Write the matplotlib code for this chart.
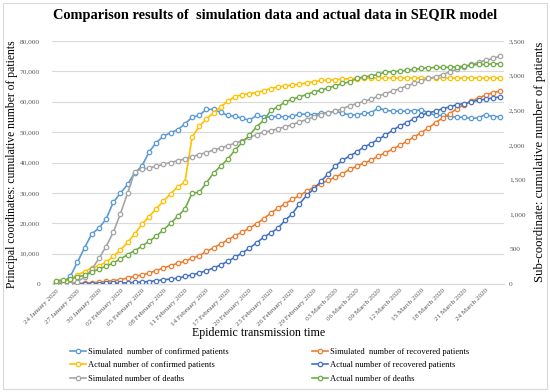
import numpy as np
import pandas as pd
import matplotlib
matplotlib.use("Agg")
import matplotlib.pyplot as plt
from matplotlib.patches import Rectangle
from matplotlib.ticker import FuncFormatter, MultipleLocator

plt.rcParams['font.family'] = ['Liberation Serif', 'DejaVu Serif']

# categories: one point per day, 24 Jan 2020 .. 26 Mar 2020
dates = pd.date_range('2020-01-24', periods=63)
date_labels = [d.strftime('%d %B %Y') for d in dates]

# primary axis (cumulative number of patients)
sim_confirmed = [200, 400, 2500, 7200, 12000, 16500, 18400, 21400, 26900, 29900,
                 32800, 36600, 38800, 43500, 46500, 48700, 49800, 50800, 52700, 54900,
                 55500, 57500, 57500, 56500, 55500, 55200, 54600, 53900, 55500, 55000,
                 55000, 55200, 55000, 55200, 55900, 55900, 55700, 56200, 56400, 56900,
                 56200, 55700, 55700, 56200, 56400, 57900, 57200, 56900, 56900, 56900,
                 57100, 57300, 56400, 55500, 55500, 55100, 54900, 54900, 54500, 54700,
                 55800, 55100, 55100]
act_confirmed = [700, 1050, 1450, 3000, 4100, 5300, 6000, 7150, 9100, 11200,
                 13700, 16500, 19600, 22200, 24800, 27200, 29700, 32000, 33500, 48300,
                 51900, 54400, 56300, 58300, 60200, 61700, 62300, 62700, 63000, 63700,
                 64300, 64900, 65200, 65500, 65800, 66200, 66550, 67000, 67100, 67300,
                 67400, 67650, 67650, 67750, 67800, 67800, 67800, 67800, 67800, 67800,
                 67800, 67800, 67800, 67800, 67800, 67800, 67800, 67800, 67800, 67800,
                 67800, 67800, 67800]
sim_recovered = [0, 50, 100, 200, 300, 400, 550, 880, 1100, 1430,
                 1980, 2530, 2970, 3630, 4400, 5280, 6050, 6820, 7480, 8470,
                 9350, 10700, 11900, 13200, 14500, 15950, 17050, 18370, 19800, 21450,
                 23400, 24970, 26400, 27830, 29150, 30470, 31900, 33000, 34100, 35200,
                 36300, 37730, 38720, 39820, 40700, 42130, 43230, 44330, 45650, 46970,
                 48400, 49830, 51370, 53130, 54670, 56100, 57750, 59070, 60170, 61270,
                 62150, 63030, 63470]
act_recovered = [30, 40, 45, 50, 80, 90, 120, 170, 220, 300,
                 400, 520, 630, 820, 1100, 1400, 1650, 1900, 2500, 2970,
                 3630, 4400, 5280, 6270, 7480, 8800, 10230, 11770, 13530, 15400,
                 16830, 18370, 21000, 23100, 26400, 29150, 31350, 33770, 36300, 38830,
                 40700, 42130, 43450, 45100, 46200, 47630, 49000, 50600, 52030, 53130,
                 54450, 55550, 56430, 56870, 57750, 58300, 59070, 59400, 59950, 60500,
                 60830, 61270, 61600]

# secondary axis (deaths)
sim_deaths = [0, 0, 0, 35, 100, 210, 370, 540, 746, 1011,
              1310, 1620, 1655, 1670, 1694, 1725, 1750, 1775, 1803, 1832,
              1865, 1893, 1930, 1960, 1993, 2030, 2062, 2113, 2151, 2190,
              2205, 2238, 2262, 2296, 2334, 2368, 2406, 2440, 2469, 2488,
              2527, 2565, 2599, 2632, 2661, 2705, 2743, 2777, 2815, 2854,
              2888, 2921, 2960, 2984, 3017, 3056, 3094, 3128, 3162, 3191,
              3224, 3248, 3282]
act_deaths = [50, 58, 72, 106, 125, 168, 217, 255, 303, 361,
              423, 481, 544, 616, 688, 780, 875, 975, 1078, 1310,
              1320, 1455, 1598, 1699, 1800, 1930, 2040, 2142, 2262, 2358,
              2500, 2551, 2623, 2661, 2695, 2729, 2767, 2791, 2825, 2854,
              2888, 2912, 2960, 2984, 2998, 3018, 3056, 3056, 3066, 3080,
              3090, 3104, 3114, 3119, 3119, 3123, 3128, 3138, 3152, 3162,
              3162, 3171, 3171]

x = np.arange(len(dates))
txt = '#595959'
W, H = 550, 392

fig = plt.figure(figsize=(5.5, 3.92), dpi=100)
fig.patches.append(Rectangle((0.006, 0.008), 0.988, 0.984, transform=fig.transFigure,
                             fill=False, edgecolor='#D9D9D9', lw=0.8))
ax = fig.add_axes([52.4 / W, 1 - 284 / H, 451.2 / W, 243 / H])
ax2 = ax.twinx()

def line(a, y, c, lbl):
    return a.plot(x, y, '-o', color=c, lw=1.2, ms=3.2, mfc='white', mew=0.9, label=lbl)[0]

h1 = line(ax, sim_confirmed, '#5B9BD5', 'Simulated  number of confirmed patients')
h2 = line(ax, sim_recovered, '#ED7D31', 'Simulated  number of recovered patients')
h3 = line(ax, act_confirmed, '#FFC000', 'Actual number of confirmed patients')
h4 = line(ax, act_recovered, '#4472C4', 'Actual number of recovered patients')
h5 = line(ax2, sim_deaths, '#A5A5A5', 'Simulated number of deaths')
h6 = line(ax2, act_deaths, '#70AD47', 'Actual number of deaths')

ax.set_xlim(-0.5, len(x) - 0.5)
ax.set_ylim(0, 80000)
ax2.set_ylim(0, 3500)
ax.yaxis.set_major_locator(MultipleLocator(10000))
ax2.yaxis.set_major_locator(MultipleLocator(500))
fmt = FuncFormatter(lambda v, p: f'{int(v):,}')
ax.yaxis.set_major_formatter(fmt)
ax2.yaxis.set_major_formatter(fmt)

ax.grid(axis='y', color='#D9D9D9', lw=0.8)
ax.set_axisbelow(True)
for a in (ax, ax2):
    for s in a.spines.values():
        s.set_visible(False)
ax.spines['bottom'].set_visible(True)
ax.spines['bottom'].set_color('#D9D9D9')
ax.tick_params(axis='y', length=0, labelsize=5.3, labelcolor=txt, pad=9)
ax2.tick_params(axis='y', length=0, labelsize=5.3, labelcolor=txt, pad=4)

ax.set_xticks(x[::3])
ax.set_xticklabels(date_labels[::3], rotation=45, ha='right', rotation_mode='anchor',
                   fontsize=5.1, color=txt)
ax.tick_params(axis='x', which='both', length=0, pad=3)

fig.text(12 / W, 1 - 164 / H, 'Principal coordinates: cumulative number of patients',
         rotation=90, ha='center', va='center', fontsize=8.4)
fig.text(540 / W, 1 - 162 / H, 'Sub-coordinate: cumulative number of patients',
         rotation=90, ha='center', va='center', fontsize=9.2)
fig.text(259 / W, 1 - 333 / H, 'Epidemic transmission time', ha='center', va='center',
         fontsize=8.6)
fig.text(275 / W, 1 - 15 / H,
         'Comparison results of  simulation data and actual data in SEQIR model',
         ha='center', va='center', fontsize=10.4, fontweight='bold')

fig.legend(handles=[h1, h3, h5, h2, h4, h6], ncol=2, loc='upper left',
           bbox_to_anchor=(70 / W, 1 - 348 / H), borderaxespad=0, borderpad=0,
           frameon=False, fontsize=6.1, columnspacing=9.9, handlelength=1.9,
           handletextpad=0.2, labelspacing=0.62)

fig.savefig('out.png', dpi=100)
